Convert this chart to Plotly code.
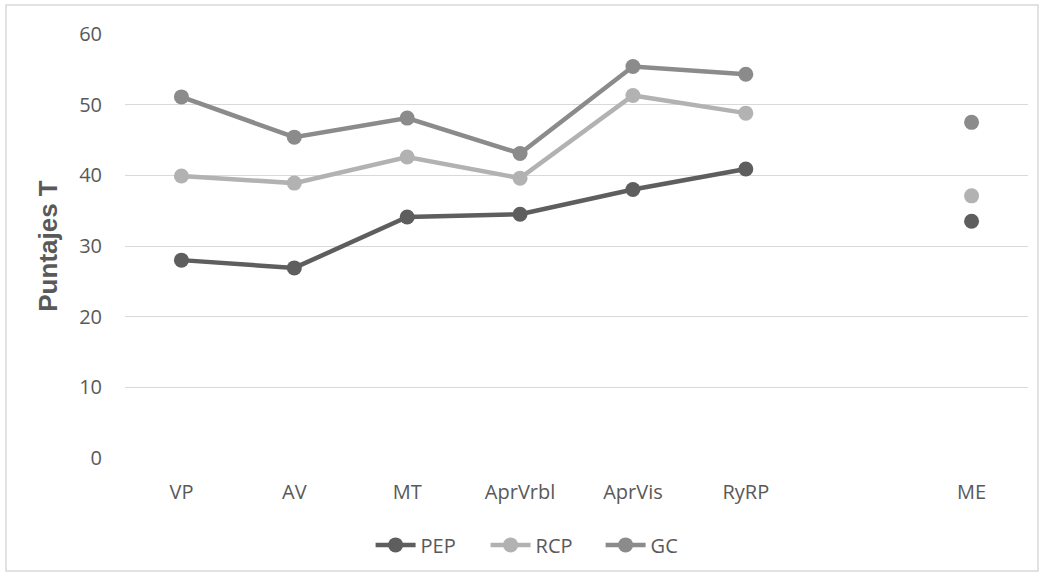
import plotly.graph_objects as go

categories = ["VP", "AV", "MT", "AprVrbl", "AprVis", "RyRP", " ", "ME"]
pep = [28.0, 26.9, 34.1, 34.5, 38.0, 40.9, None, 33.5]
rcp = [39.9, 38.9, 42.6, 39.6, 51.3, 48.8, None, 37.1]
gc = [51.1, 45.4, 48.1, 43.1, 55.4, 54.3, None, 47.5]
series_names = ["PEP", "RCP", "GC"]
series_colors = ["#5e5e5e", "#b2b2b2", "#8b8b8b"]

fig = go.Figure()
for name, vals, col in zip(series_names, [pep, rcp, gc], series_colors):
    fig.add_trace(go.Scatter(
        x=categories, y=vals, name=name, mode="lines+markers",
        connectgaps=False,
        line=dict(color=col, width=4.5),
        marker=dict(color=col, size=15),
    ))

font_family = "Open Sans, Noto Sans, sans-serif"
fig.update_layout(
    width=1045, height=577,
    margin=dict(l=125, r=17, t=34, b=119),
    paper_bgcolor="white", plot_bgcolor="white",
    font=dict(family=font_family, color="#595959", size=20),
    showlegend=True,
    legend=dict(orientation="h", x=0.463, xanchor="center", y=-0.205, yanchor="middle",
                font=dict(size=20, color="#595959"), itemwidth=40,
                entrywidth=60, entrywidthmode="pixels"),
    xaxis=dict(type="category", categoryorder="array", categoryarray=categories,
               range=[-0.5, 7.5], showgrid=False, zeroline=False, showline=False,
               ticks="", ticklabelstandoff=20, tickfont=dict(size=20, color="#595959")),
    yaxis=dict(range=[0, 60], dtick=10, showgrid=True, gridcolor="#d9d9d9", gridwidth=1.3,
               zeroline=False, showline=False, ticks="", ticklabelstandoff=22,
               tickfont=dict(size=20, color="#595959"),
               title=dict(text="<b>Puntajes T</b>",
                          font=dict(family="Liberation Sans, Arial, sans-serif", size=26, color="#595959"),
                          standoff=14)),
    shapes=[dict(type="rect", xref="paper", yref="paper",
                 x0=(6 - 125) / 903, x1=(1038 - 125) / 903,
                 y0=(458 - 571) / 424, y1=(458 - 5) / 424,
                 line=dict(color="#d9d9d9", width=1.5), fillcolor="rgba(0,0,0,0)", layer="below")],
)

fig.write_html("out.html", config={"displayModeBar": False},
               post_script="document.body.style.margin='0';")
